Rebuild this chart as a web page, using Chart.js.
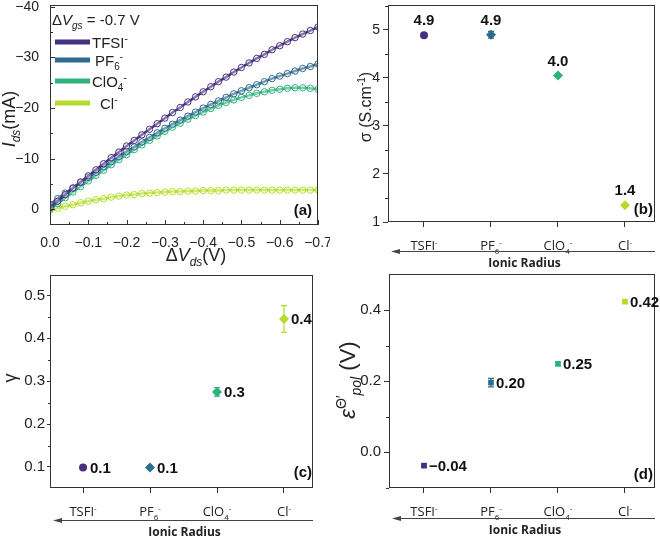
<!DOCTYPE html>
<html>
<head>
<meta charset="UTF-8">
<title>Ionic radius effect</title>
<script src="https://cdn.jsdelivr.net/npm/chart.js"></script>
<style>
  body { margin: 0; background: #fff; }
  #wrap { position: relative; width: 660px; height: 537px; }
  canvas { position: absolute; }
</style>
</head>
<body>
<div id="wrap">
  <canvas id="cA" width="330" height="270" style="left:0;top:0"></canvas>
  <canvas id="cB" width="330" height="270" style="left:330px;top:0"></canvas>
  <canvas id="cC" width="330" height="267" style="left:0;top:270px"></canvas>
  <canvas id="cD" width="330" height="267" style="left:330px;top:270px"></canvas>
</div>
<script>
// ---- data ----
const colors = ['#47307f', '#2f6b8e', '#2db37a', '#b4dd2b'];

// panel (a) output curves
const vds = [0, -0.02, -0.04, -0.06, -0.08, -0.10, -0.12, -0.14, -0.16, -0.18, -0.20, -0.22,
  -0.24, -0.26, -0.28, -0.30, -0.32, -0.34, -0.36, -0.38, -0.40, -0.42, -0.44, -0.46,
  -0.48, -0.50, -0.52, -0.54, -0.56, -0.58, -0.60, -0.62, -0.64, -0.66, -0.68, -0.70];
const idsTFSI = [-0.3, -1.6, -2.9, -4.2, -5.4, -6.6, -7.8, -9.0, -10.2, -11.3, -12.5, -13.6,
  -14.7, -15.8, -16.9, -18.0, -19.1, -20.1, -21.2, -22.2, -23.2, -24.2, -25.2, -26.1,
  -27.1, -28.0, -28.9, -29.8, -30.6, -31.5, -32.3, -33.1, -33.9, -34.6, -35.3, -36.0];
const idsPF6 = [-1.0, -2.1, -3.2, -4.2, -5.3, -6.3, -7.3, -8.4, -9.4, -10.4, -11.4, -12.3,
  -13.3, -14.2, -15.1, -16.0, -16.8, -17.6, -18.4, -19.2, -20.0, -20.7, -21.4, -22.1,
  -22.8, -23.4, -24.0, -24.6, -25.2, -25.8, -26.3, -26.8, -27.3, -27.8, -28.2, -28.7];
const idsClO4 = [0, -1.1, -2.3, -3.4, -4.5, -5.6, -6.7, -7.7, -8.8, -9.8, -10.8, -11.8,
  -12.7, -13.6, -14.5, -15.4, -16.2, -17.0, -17.8, -18.5, -19.2, -19.9, -20.5, -21.1,
  -21.6, -22.1, -22.5, -22.9, -23.2, -23.5, -23.7, -23.9, -24.0, -24.0, -23.9, -23.7];
const idsCl = [0.2, -0.2, -0.6, -0.9, -1.3, -1.6, -1.9, -2.1, -2.4, -2.6, -2.8, -2.9,
  -3.1, -3.2, -3.3, -3.4, -3.5, -3.5, -3.6, -3.6, -3.7, -3.7, -3.7, -3.8,
  -3.8, -3.8, -3.8, -3.8, -3.8, -3.8, -3.8, -3.8, -3.8, -3.8, -3.8, -3.8];
const aXTicks = [0, -0.1, -0.2, -0.3, -0.4, -0.5, -0.6, -0.7];
const aYTicks = [0, -10, -20, -30, -40];

// panels (b)-(d)
const ionPos = [1, 2, 3, 4];
const sigma = [4.89, 4.9, 4.05, 1.35];
const sigmaErr = [0.02, 0.07, 0.02, 0.02];
const sigmaText = ['4.9', '4.9', '4.0', '1.4'];
const gamma = [0.099, 0.099, 0.275, 0.445];
const gammaErr = [0.003, 0.003, 0.01, 0.031];
const gammaText = ['0.1', '0.1', '0.3', '0.4'];
const epol = [-0.038, 0.196, 0.249, 0.424];
const epolErr = [0.004, 0.012, 0.005, 0.005];
const epolText = ['\u22120.04', '0.20', '0.25', '0.42'];
const bYTicks = [1, 2, 3, 4, 5];
const cYTicks = [0.1, 0.2, 0.3, 0.4, 0.5];
const dYTicks = [0.0, 0.2, 0.4];

// labels with sub/superscripts
const ionLabels = [
  [{t: 'TSFI'}, {t: '-', sup: 1}],
  [{t: 'PF'}, {t: '6', sub: 1}, {t: '-', sup: 1}],
  [{t: 'ClO'}, {t: '4', sub: 1}, {t: '-', sup: 1}],
  [{t: 'Cl'}, {t: '-', sup: 1}]
];
const legendLabels = [
  [{t: 'TFSI'}, {t: '-', sup: 1}],
  [{t: 'PF'}, {t: '6', sub: 1}, {t: '-', sup: 1}],
  [{t: 'ClO'}, {t: '4', sub: 1}, {t: '-', sup: 1}],
  [{t: 'Cl'}, {t: '-', sup: 1}]
];

Chart.defaults.animation = false;
Chart.defaults.font.family = '"Liberation Sans", Arial, sans-serif';
Chart.defaults.color = '#222';

// ---- helpers ----
function fontOf(p, size, fam) {
  const s = (p.sub || p.sup) ? Math.round(size * 0.65) : size;
  return (p.b ? 'bold ' : '') + (p.i ? 'italic ' : '') + s + 'px ' + (fam || '"Liberation Sans", Arial, sans-serif');
}
function drawRich(ctx, parts, x, y, size, align, fam) {
  let w = 0;
  parts.forEach(p => { ctx.font = fontOf(p, size, fam); w += ctx.measureText(p.t).width; });
  if (align === 'center') x -= w / 2;
  if (align === 'right') x -= w;
  ctx.textAlign = 'left';
  ctx.textBaseline = 'alphabetic';
  parts.forEach(p => {
    ctx.font = fontOf(p, size, fam);
    const dy = p.sub ? size * 0.28 : p.sup ? -size * 0.4 : 0;
    ctx.fillText(p.t, x, y + dy);
    x += ctx.measureText(p.t).width;
  });
}
function drawRotated(ctx, parts, x, y, size) {
  ctx.save();
  ctx.translate(x, y);
  ctx.rotate(-Math.PI / 2);
  drawRich(ctx, parts, 0, 0, size, 'center');
  ctx.restore();
}
function frame(ctx, a) {
  ctx.save();
  ctx.strokeStyle = '#333';
  ctx.lineWidth = 1;
  ctx.strokeRect(Math.round(a.left) + 0.5, Math.round(a.top) + 0.5,
    Math.round(a.right - a.left) - 1, Math.round(a.bottom - a.top) - 1);
  ctx.restore();
}
function tickMarks(ctx, chart, axis, values, len, inward) {
  const a = chart.chartArea, s = chart.scales[axis];
  ctx.save();
  ctx.strokeStyle = '#333';
  ctx.lineWidth = 1;
  values.forEach(v => {
    const p = Math.round(s.getPixelForValue(v)) + 0.5;
    ctx.beginPath();
    if (axis === 'y') {
      ctx.moveTo(a.left, p); ctx.lineTo(inward ? a.left + len : a.left - len, p);
    } else {
      ctx.moveTo(p, a.bottom); ctx.lineTo(p, inward ? a.bottom - len : a.bottom + len);
    }
    ctx.stroke();
  });
  ctx.restore();
}
function fixScale(size) {
  return s => {
    if (s.isHorizontal()) { s.height = size; s.paddingLeft = 0; s.paddingRight = 0; }
    else { s.width = size; s.paddingTop = 0; s.paddingBottom = 0; }
  };
}
function setTicks(arr) {
  return s => { s.ticks = arr.map(v => ({value: v})); };
}
function errorBars(chart, vals, errs) {
  const {ctx, scales} = chart;
  ctx.save();
  ctx.lineWidth = 1.2;
  vals.forEach((v, i) => {
    const x = scales.x.getPixelForValue(ionPos[i]);
    const y1 = scales.y.getPixelForValue(v - errs[i]);
    const y2 = scales.y.getPixelForValue(v + errs[i]);
    ctx.strokeStyle = colors[i];
    ctx.beginPath();
    ctx.moveTo(x, y1); ctx.lineTo(x, y2);
    ctx.moveTo(x - 3, y1); ctx.lineTo(x + 3, y1);
    ctx.moveTo(x - 3, y2); ctx.lineTo(x + 3, y2);
    ctx.stroke();
  });
  ctx.restore();
}
function ionAxis(chart, arrowY) {
  const {ctx, chartArea: a, scales} = chart;
  ctx.save();
  ctx.fillStyle = '#222';
  ionLabels.forEach((parts, i) => {
    drawRich(ctx, parts, scales.x.getPixelForValue(ionPos[i]), a.bottom + 28, 13, 'center', '"Open Sans", sans-serif');
  });
  // arrow pointing to larger ionic radius
  ctx.strokeStyle = '#444';
  ctx.fillStyle = '#444';
  ctx.lineWidth = 1;
  ctx.beginPath();
  ctx.moveTo(a.right, arrowY + 0.5);
  ctx.lineTo(a.left + 8, arrowY + 0.5);
  ctx.stroke();
  ctx.beginPath();
  ctx.moveTo(a.left + 3, arrowY + 0.5);
  ctx.lineTo(a.left + 12, arrowY - 2);
  ctx.lineTo(a.left + 12, arrowY + 3);
  ctx.closePath();
  ctx.fill();
  ctx.fillStyle = '#222';
  ctx.font = 'bold 12px "Open Sans", sans-serif';
  ctx.textAlign = 'center';
  ctx.textBaseline = 'middle';
  ctx.fillText('Ionic Radius', (a.left + a.right) / 2 + 3, arrowY + 13);
  ctx.restore();
}
function valueLabels(chart, vals, texts, mode) {
  const {ctx, scales} = chart;
  ctx.save();
  ctx.fillStyle = '#111';
  ctx.font = 'bold 15px "Liberation Sans", Arial, sans-serif';
  vals.forEach((v, i) => {
    const x = scales.x.getPixelForValue(ionPos[i]);
    const y = scales.y.getPixelForValue(v);
    if (mode === 'above') {
      ctx.textAlign = 'center'; ctx.textBaseline = 'alphabetic';
      ctx.fillText(texts[i], x, y - 10);
    } else {
      ctx.textAlign = 'left'; ctx.textBaseline = 'middle';
      ctx.fillText(texts[i], x + mode, y + 1);
    }
  });
  ctx.restore();
}
function panelTag(ctx, text, x, y) {
  ctx.save();
  ctx.fillStyle = '#111';
  ctx.font = 'bold 15px "Liberation Sans", Arial, sans-serif';
  ctx.textAlign = 'right';
  ctx.textBaseline = 'middle';
  ctx.fillText(text, x, y);
  ctx.restore();
}
function numTick(v, digits) {
  const s = Math.abs(v).toFixed(digits);
  return v < 0 ? '\u2212' + s : s;
}

// ---- panel (a) ----
const curves = [idsTFSI, idsPF6, idsClO4, idsCl];
new Chart(document.getElementById('cA'), {
  type: 'scatter',
  data: {
    datasets: curves.map((ys, k) => ({
      data: vds.map((x, i) => ({x: x, y: ys[i]})),
      showLine: true,
      borderColor: colors[k],
      borderWidth: 2.5,
      pointStyle: 'circle',
      pointRadius: 3.2,
      pointBorderWidth: 1,
      pointBorderColor: colors[k],
      pointBackgroundColor: 'rgba(255,255,255,0.35)',
      order: k
    }))
  },
  options: {
    responsive: false,
    layout: {padding: {left: 0, top: 5, right: 12, bottom: 0}},
    plugins: {legend: {display: false}, tooltip: {enabled: false}},
    scales: {
      x: {
        type: 'linear', reverse: true, min: -0.7, max: 0,
        afterFit: fixScale(45), afterBuildTicks: setTicks(aXTicks),
        grid: {display: false}, border: {display: false},
        ticks: {padding: 2, font: {size: 14}, maxRotation: 0, callback: v => numTick(v, 1)}
      },
      y: {
        type: 'linear', reverse: true, min: -40.34, max: 3.1,
        afterFit: fixScale(50), afterBuildTicks: setTicks(aYTicks),
        grid: {display: false}, border: {display: false},
        ticks: {padding: 3, font: {size: 14}, callback: v => numTick(v, 0)}
      }
    }
  },
  plugins: [{
    id: 'decoA',
    afterDraw(chart) {
      const {ctx, chartArea: a} = chart;
      frame(ctx, a);
      tickMarks(ctx, chart, 'y', aYTicks, 5, true);
      tickMarks(ctx, chart, 'y', [-35, -25, -15, -5], 3, true);
      tickMarks(ctx, chart, 'x', aXTicks, 5, true);
      tickMarks(ctx, chart, 'x', [-0.05, -0.15, -0.25, -0.35, -0.45, -0.55, -0.65], 3, true);
      ctx.save();
      ctx.fillStyle = '#222';
      drawRich(ctx, [{t: '\u0394'}, {t: 'V', i: 1}, {t: 'gs', i: 1, sub: 1}, {t: ' = -0.7 V'}], 52, 25, 15);
      const rows = [42, 60, 81, 103];
      const lx = [92, 95, 92, 100];
      rows.forEach((y, i) => {
        ctx.strokeStyle = colors[i];
        ctx.lineWidth = 5;
        ctx.beginPath(); ctx.moveTo(55, y); ctx.lineTo(90, y); ctx.stroke();
        ctx.fillStyle = '#222';
        drawRich(ctx, legendLabels[i], lx[i], y + 6, 15);
      });
      drawRotated(ctx, [{t: 'I', i: 1}, {t: 'ds', i: 1, sub: 1}, {t: '(mA)'}], 15, 119, 18);
      drawRich(ctx, [{t: '\u0394'}, {t: 'V', i: 1}, {t: 'ds', i: 1, sub: 1}, {t: '(V)'}], 196, 261, 18, 'center');
      ctx.restore();
      panelTag(ctx, '(a)', 312, 211);
    }
  }]
});

// ---- panel (b) ----
function pointSet(vals, styles, radius) {
  return [{
    data: vals.map((v, i) => ({x: ionPos[i], y: v})),
    pointStyle: styles,
    pointRadius: radius,
    pointBackgroundColor: colors,
    pointBorderColor: colors,
    pointBorderWidth: 0
  }];
}
function catX(min, max, height) {
  return {
    type: 'linear', min: min, max: max,
    afterFit: fixScale(height), afterBuildTicks: setTicks(ionPos),
    grid: {display: true, drawOnChartArea: false, drawTicks: true, tickLength: 5, color: '#333'},
    border: {display: false},
    ticks: {callback: () => '', font: {size: 12}}
  };
}
function numY(min, max, width, ticks, digits, tickLen, pad, fsize) {
  return {
    type: 'linear', min: min, max: max,
    afterFit: fixScale(width), afterBuildTicks: setTicks(ticks),
    grid: {display: true, drawOnChartArea: false, drawTicks: true, tickLength: tickLen, color: '#333'},
    border: {display: false},
    ticks: {padding: pad, font: {size: fsize}, callback: v => numTick(v, digits)}
  };
}

new Chart(document.getElementById('cB'), {
  type: 'scatter',
  data: {datasets: pointSet(sigma, ['circle', 'rectRot', 'rectRot', 'rectRot'], [4, 5, 5, 5])},
  options: {
    responsive: false,
    layout: {padding: {left: 0, top: 5, right: 5, bottom: 0}},
    plugins: {legend: {display: false}, tooltip: {enabled: false}},
    scales: {
      x: catX(0.463, 4.448, 48),
      y: numY(1, 5.52, 58, bYTicks, 0, 5, 3, 14)
    }
  },
  plugins: [{
    id: 'decoB',
    beforeDatasetsDraw(chart) { errorBars(chart, sigma, sigmaErr); },
    afterDraw(chart) {
      const {ctx, chartArea: a} = chart;
      frame(ctx, a);
      tickMarks(ctx, chart, 'y', [1.5, 2.5, 3.5, 4.5, 5.5], 3, false);
      valueLabels(chart, sigma, sigmaText, 'above');
      ionAxis(chart, 251);
      ctx.save();
      ctx.fillStyle = '#222';
      drawRotated(ctx, [{t: '\u03c3 (S.cm'}, {t: '-1', sup: 1}, {t: ')'}], 41, 107, 16);
      ctx.restore();
      panelTag(ctx, '(b)', 323, 210);
    }
  }]
});

// ---- panel (c) ----
new Chart(document.getElementById('cC'), {
  type: 'scatter',
  data: {datasets: pointSet(gamma, ['circle', 'rectRot', 'rectRot', 'rectRot'], [4, 5, 5, 5])},
  options: {
    responsive: false,
    layout: {padding: {left: 0, top: 2, right: 17, bottom: 0}},
    plugins: {legend: {display: false}, tooltip: {enabled: false}},
    scales: {
      x: catX(0.507, 4.433, 49),
      y: numY(0.051, 0.5476, 50, cYTicks, 1, 3, 2, 15)
    }
  },
  plugins: [{
    id: 'decoC',
    beforeDatasetsDraw(chart) { errorBars(chart, gamma, gammaErr); },
    afterDraw(chart) {
      const {ctx, chartArea: a} = chart;
      frame(ctx, a);
      tickMarks(ctx, chart, 'y', [0.15, 0.25, 0.35, 0.45], 2, false);
      valueLabels(chart, gamma, gammaText, 7);
      ionAxis(chart, 250);
      ctx.save();
      ctx.fillStyle = '#222';
      drawRotated(ctx, [{t: '\u03b3'}], 16, 108, 18);
      ctx.restore();
      panelTag(ctx, '(c)', 312, 203);
    }
  }]
});

// ---- panel (d) ----
new Chart(document.getElementById('cD'), {
  type: 'scatter',
  data: {datasets: pointSet(epol, 'rect', 4)},
  options: {
    responsive: false,
    layout: {padding: {left: 0, top: 1, right: 5, bottom: 0}},
    plugins: {legend: {display: false}, tooltip: {enabled: false}},
    scales: {
      x: catX(0.478, 4.448, 49),
      y: numY(-0.101, 0.502, 59, dYTicks, 1, 5, 3, 15)
    }
  },
  plugins: [{
    id: 'decoD',
    beforeDatasetsDraw(chart) { errorBars(chart, epol, epolErr); },
    afterDraw(chart) {
      const {ctx, chartArea: a} = chart;
      frame(ctx, a);
      tickMarks(ctx, chart, 'y', [-0.1, 0.1, 0.3], 3, false);
      valueLabels(chart, epol, epolText, 5);
      ionAxis(chart, 248);
      ctx.save();
      ctx.fillStyle = '#222';
      drawRotated(ctx, [{t: '\u03b5', i: 1}, {t: '\u0398\u2032', sup: 1}, {t: 'pol', i: 1, sub: 1}, {t: ' (V)'}], 25, 110, 22);
      ctx.restore();
      panelTag(ctx, '(d)', 323, 205);
    }
  }]
});
</script>
</body>
</html>
